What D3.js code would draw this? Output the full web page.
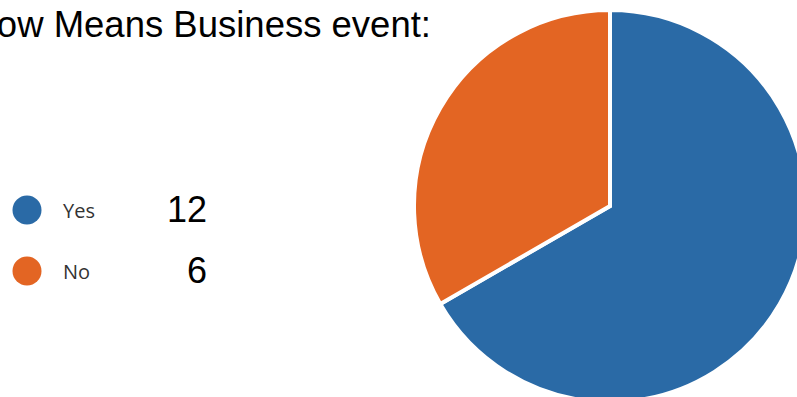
<!DOCTYPE html>
<html>
<head>
<meta charset="utf-8">
<script src="https://cdn.jsdelivr.net/npm/d3@7"></script>
<style>
  html, body { margin: 0; padding: 0; background: #fff; overflow: hidden; }
  svg { display: block; }
</style>
</head>
<body>
<svg id="chart" width="797" height="397"></svg>
<script>
// Survey responses
const titleText = "ow Means Business event:";
const categories = ["Yes", "No"];
const counts = [12, 6];
const colors = ["#2a6aa6", "#e36523"];

const svg = d3.select("#chart");

// Title (runs off the left edge)
svg.append("text")
  .attr("x", 431)
  .attr("y", 37)
  .attr("text-anchor", "end")
  .attr("font-family", "Liberation Sans, Arial, sans-serif")
  .attr("font-size", 36.5)
  .attr("fill", "#000")
  .text(titleText);

// Legend
const legendY = d3.scalePoint().domain(categories).range([210, 271]);
const legend = svg.append("g");
const rows = legend.selectAll("g.row")
  .data(categories.map((c, i) => ({ c, v: counts[i], col: colors[i] })))
  .join("g")
  .attr("class", "row")
  .attr("transform", d => `translate(0,${legendY(d.c)})`);

rows.append("circle")
  .attr("cx", 27)
  .attr("cy", 0)
  .attr("r", 14.5)
  .attr("fill", d => d.col);

rows.append("text")
  .attr("x", 63)
  .attr("y", 8)
  .attr("font-family", "Open Sans, sans-serif")
  .attr("font-size", 20)
  .attr("fill", "#333")
  .text(d => d.c);

rows.append("text")
  .attr("x", 207)
  .attr("y", 12)
  .attr("text-anchor", "end")
  .attr("font-family", "Liberation Sans, Arial, sans-serif")
  .attr("font-size", 36)
  .attr("fill", "#000")
  .text(d => d.v);

// Pie
const cx = 610, cy = 206, radius = 196;
const pie = d3.pie().sort(null).value(d => d.v);
const arc = d3.arc().innerRadius(0).outerRadius(radius);
const data = categories.map((c, i) => ({ c, v: counts[i], col: colors[i] }));

svg.append("g")
  .attr("transform", `translate(${cx},${cy})`)
  .selectAll("path")
  .data(pie(data))
  .join("path")
  .attr("d", arc)
  .attr("fill", d => d.data.col)
  .attr("stroke", "#fff")
  .attr("stroke-width", 4)
  .attr("stroke-linejoin", "miter");
</script>
</body>
</html>
